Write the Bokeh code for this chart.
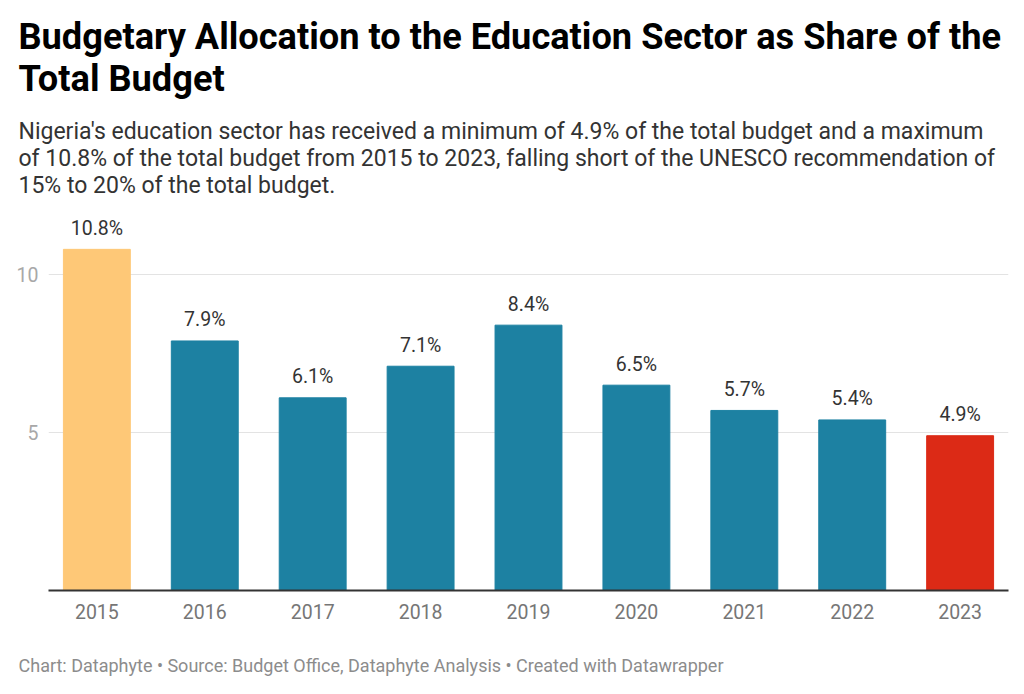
from bokeh.plotting import figure
from bokeh.models import ColumnDataSource, Title, FixedTicker, Range1d
from bokeh.embed import file_html
from bokeh.resources import INLINE
from bokeh.core.properties import value

years = ["2015", "2016", "2017", "2018", "2019", "2020", "2021", "2022", "2023"]
shares = [10.8, 7.9, 6.1, 7.1, 8.4, 6.5, 5.7, 5.4, 4.9]
bar_labels = ["10.8%", "7.9%", "6.1%", "7.1%", "8.4%", "6.5%", "5.7%", "5.4%", "4.9%"]
bar_colors = ["#fec877", "#1d81a2", "#1d81a2", "#1d81a2", "#1d81a2",
              "#1d81a2", "#1d81a2", "#1d81a2", "#dc2a16"]
y_ticks = [5, 10]

title_lines = ["Budgetary Allocation to the Education Sector as Share of the",
               "Total Budget"]
subtitle_lines = [
    "Nigeria's education sector has received a minimum of 4.9% of the total budget and a maximum",
    "of 10.8% of the total budget from 2015 to 2023, falling short of the UNESCO recommendation of",
    "15% to 20% of the total budget.",
]
footer = "Chart: Dataphyte \u2022 Source: Budget Office, Dataphyte Analysis \u2022 Created with Datawrapper"

W, H = 1024, 694
FRAME_LEFT, FRAME_TOP, FRAME_BOTTOM = 48, 210, 590
FONT = "Roboto"
TEXT_X = 18

src = ColumnDataSource(dict(year=years, share=shares, label=bar_labels, color=bar_colors))

p = figure(x_range=years, y_range=Range1d(0, 12.03), width=W, height=H,
           output_backend="svg", toolbar_location=None,
           min_border_left=FRAME_LEFT, min_border_right=16, min_border_top=FRAME_TOP,
           min_border_bottom=H - FRAME_BOTTOM)
p.x_range.range_padding = -0.0115
p.outline_line_color = None
p.background_fill_color = "white"
p.border_fill_color = "white"

p.vbar(x="year", top="share", width=0.62, color="color", source=src)
p.text(x="year", y="share", text="label", source=src, text_align="center",
       text_baseline="alphabetic", y_offset=-21, text_font=value(FONT),
       text_font_size="19.5px", text_color="#333333")

p.xgrid.grid_line_color = None
p.ygrid.grid_line_color = "#e3e3e3"
p.ygrid.grid_line_width = 1
p.yaxis.ticker = FixedTicker(ticks=y_ticks)
p.yaxis.axis_line_color = None
p.yaxis.major_tick_line_color = None
p.yaxis.minor_tick_line_color = None
p.yaxis.major_label_text_color = "#a8a8a8"
p.yaxis.major_label_text_font = FONT
p.yaxis.major_label_text_font_size = "19.5px"
p.yaxis.major_label_standoff = 4

p.xaxis.axis_line_color = "#333333"
p.xaxis.axis_line_width = 2
p.xaxis.major_tick_line_color = None
p.xaxis.minor_tick_line_color = None
p.xaxis.major_label_text_color = "#767676"
p.xaxis.major_label_text_font = FONT
p.xaxis.major_label_text_font_size = "19.5px"
p.xaxis.major_label_standoff = 7


def line_title(txt, size, color, standoff, style="normal"):
    return Title(text=txt, align="left", vertical_align="bottom",
                 offset=TEXT_X - FRAME_LEFT, standoff=standoff,
                 text_font=FONT, text_font_size=size, text_font_style=style,
                 text_color=color)


def spacer(standoff):
    return Title(text=" ", text_font_size="1px", standoff=standoff,
                 vertical_align="bottom", text_color="white")


# above panels: first added sits closest to the plot frame
p.add_layout(spacer(9.5), "above")
for t in reversed(subtitle_lines):
    p.add_layout(line_title(t, "23px", "#333333", -2), "above")
p.add_layout(spacer(15.2), "above")
for t in reversed(title_lines):
    p.add_layout(line_title(t, "36.2px", "#000000", -3.4, "bold"), "above")

# below panels: x axis first, then spacer, then footer
p.add_layout(spacer(28), "below")
p.add_layout(line_title(footer, "18px", "#8c8c8c", 0), "below")

open("out.html", "w").write(file_html(p, INLINE))
